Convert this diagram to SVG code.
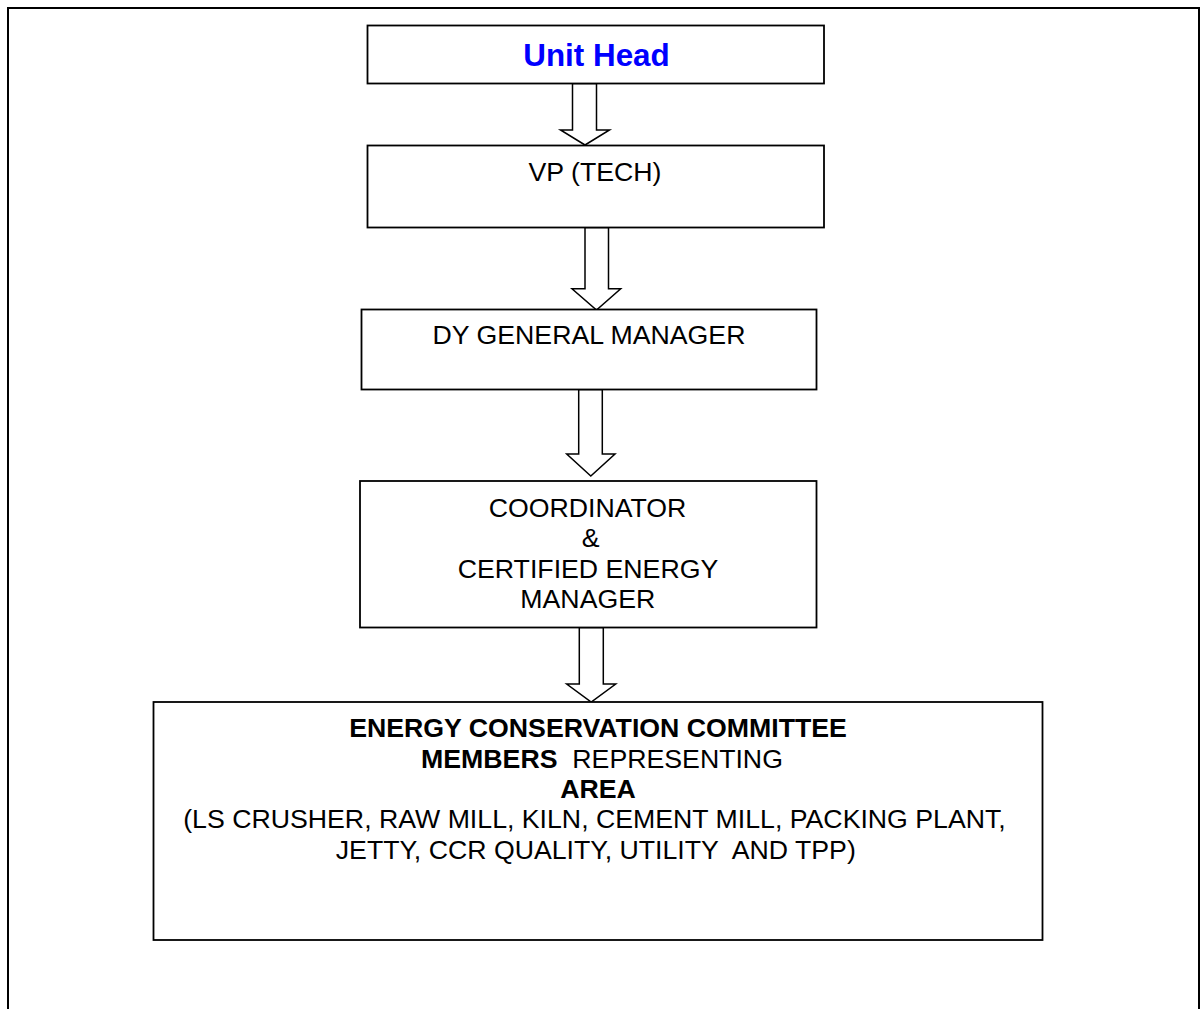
<svg xmlns="http://www.w3.org/2000/svg" width="1200" height="1009" viewBox="0 0 1200 1009">
<style>
.box{fill:#fff;stroke:#000;stroke-width:1.8}
.arr{fill:#fff;stroke:#000;stroke-width:1.5;stroke-linejoin:miter}
.t{font-family:"Liberation Sans",Arial,sans-serif;font-size:26.7px;fill:#000;text-anchor:middle}
.b{font-weight:bold}
</style>
<rect x="0" y="0" width="1200" height="1009" fill="#fff"/>
<rect id="frame" x="8" y="8" width="1191" height="1020" fill="none" stroke="#000" stroke-width="2"/>
<g id="connectors">
<polygon class="arr" points="572.5,83.5 596.5,83.5 596.5,130 609.5,130 585,145 560.5,130 572.5,130"/>
<polygon class="arr" points="585,227.5 608.5,227.5 608.5,288.7 620.7,288.7 596.5,310 572,288.7 585,288.7"/>
<polygon class="arr" points="578.7,389.5 602.3,389.5 602.3,454 615,454 590.8,476 566.7,454 578.7,454"/>
<polygon class="arr" points="579.3,627.5 603.3,627.5 603.3,684 615.7,684 591.2,702 566.7,684 579.3,684"/>
</g>
<g id="unit-head">
<rect class="box" x="367.5" y="25.5" width="456.5" height="58"/>
<text class="t b" x="596.5" y="66" style="font-size:31.4px;fill:#0000ff">Unit Head</text>
</g>
<g id="vp-tech">
<rect class="box" x="367.5" y="145.5" width="456.5" height="82"/>
<text class="t" x="595" y="181">VP (TECH)</text>
</g>
<g id="dy-gm">
<rect class="box" x="361.5" y="309.5" width="455" height="80"/>
<text class="t" x="589" y="344.3">DY GENERAL MANAGER</text>
</g>
<g id="coordinator">
<rect class="box" x="360" y="481" width="456.5" height="146.5"/>
<text class="t" x="587.5" y="516.7">COORDINATOR</text>
<text class="t" x="590.7" y="547">&amp;</text>
<text class="t" x="588" y="577.5">CERTIFIED ENERGY</text>
<text class="t" x="587.8" y="608.3">MANAGER</text>
</g>
<g id="committee">
<rect class="box" x="153.5" y="702" width="889" height="238"/>
<text class="t b" x="598" y="737.3">ENERGY CONSERVATION COMMITTEE</text>
<text class="t" x="602" y="767.7" xml:space="preserve"><tspan class="b">MEMBERS</tspan>  REPRESENTING</text>
<text class="t b" x="598" y="797.7">AREA</text>
<text class="t" x="594.5" y="828.3">(LS CRUSHER, RAW MILL, KILN, CEMENT MILL, PACKING PLANT,</text>
<text class="t" x="595.8" y="859" xml:space="preserve">JETTY, CCR QUALITY, UTILITY  AND TPP)</text>
</g>
</svg>
